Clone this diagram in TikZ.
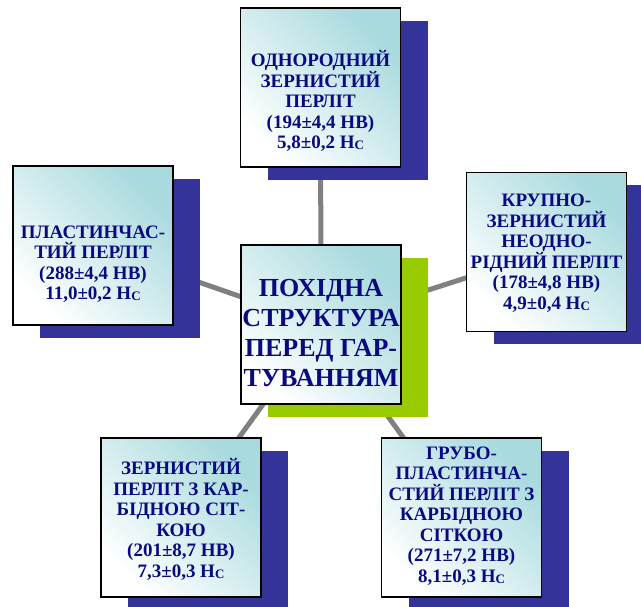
\documentclass[tikz,border=0pt]{standalone}
\usepackage{fontspec}
\setmainfont{Liberation Serif}
\usetikzlibrary{shadows,backgrounds,calc}
\definecolor{navyshadow}{HTML}{333399}
\definecolor{greenshadow}{HTML}{99CC00}
\definecolor{boxcyan}{HTML}{A8DADE}
\definecolor{txtblue}{HTML}{0A0A80}
\definecolor{linkgray}{HTML}{808080}
\newcommand{\hcunit}{Н\raisebox{-1.2pt}{\fontsize{13}{13}\selectfont С}}
\tikzset{
  card/.style={draw=black, line width=1.5pt, minimum width=160pt, minimum height=159pt,
    inner sep=0pt, bottom color=white, top color=boxcyan, shading angle=-45},
  navycard/.style={card, drop shadow={shadow xshift=27pt, shadow yshift=-13pt, fill=navyshadow, opacity=1}},
  greencard/.style={card, drop shadow={shadow xshift=27pt, shadow yshift=-13pt, fill=greenshadow, opacity=1}},
  smalltxt/.style={text=txtblue, font=\bfseries\fontsize{19}{20.5}\selectfont, align=center, inner sep=0pt},
  bigtxt/.style={text=txtblue, font=\bfseries\fontsize{26}{30}\selectfont, align=center, inner sep=0pt},
  link/.style={draw=linkgray, line width=5pt}
}
\begin{document}
\begin{tikzpicture}[x=1pt,y=-1pt]
\useasboundingbox (0,0) rectangle (641,607);
\clip (0,0) rectangle (641,607);
\node[navycard] (top) at (320.5,87.5) {};
\node[navycard] (left) at (93,245.5) {};
\node[navycard] (right) at (546.5,252) {};
\node[navycard] (botleft) at (181,517.5) {};
\node[navycard] (botright) at (461.5,517.5) {};
\node[greencard] (hub) at (321,324.5) {};
\begin{scope}[on background layer]
  \draw[link] (hub.center) -- (top.center);
  \draw[link] (hub.center) -- (left.center);
  \draw[link] (hub.center) -- (right.center);
  \draw[link] (hub.center) -- (botleft.center);
  \draw[link] (hub.center) -- (botright.center);
\end{scope}
\node[smalltxt] (toptxt) at (320.5,101) {ОДНОРОДНИЙ\\ЗЕРНИСТИЙ\\ПЕРЛІТ\\(194±4,4 НВ)\\5,8±0,2 \hcunit};
\node[smalltxt] (lefttxt) at (93,264) {ПЛАСТИНЧАС-\\ТИЙ ПЕРЛІТ\\(288±4,4 НВ)\\11,0±0,2 \hcunit};
\node[smalltxt] (righttxt) at (546.5,253) {КРУПНО-\\ЗЕРНИСТИЙ\\НЕОДНО-\\РІДНИЙ ПЕРЛІТ\\(178±4,8 НВ)\\4,9±0,4 \hcunit};
\node[smalltxt] (botlefttxt) at (181,519.5) {ЗЕРНИСТИЙ\\ПЕРЛІТ З КАР-\\БІДНОЮ СІТ-\\КОЮ\\(201±8,7 НВ)\\7,3±0,3 \hcunit};
\node[smalltxt] (botrighttxt) at (461.5,516) {ГРУБО-\\ПЛАСТИНЧА-\\СТИЙ ПЕРЛІТ З\\КАРБІДНОЮ\\СІТКОЮ\\(271±7,2 НВ)\\8,1±0,3 \hcunit};
\node[bigtxt] (hubtxt) at (321,333.5) {ПОХІДНА\\СТРУКТУРА\\ПЕРЕД ГАР-\\ТУВАННЯМ};
\end{tikzpicture}
\end{document}
